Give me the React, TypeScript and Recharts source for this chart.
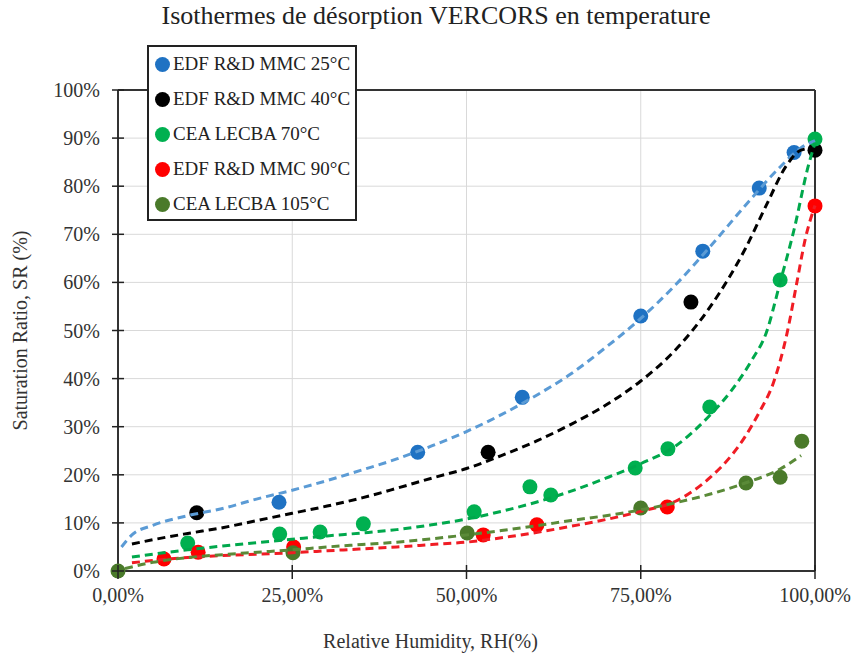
import React from "react"
import {
  ScatterChart,
  Scatter,
  XAxis,
  YAxis,
  CartesianGrid,
  ReferenceLine,
} from "recharts"

const FONT = "'Liberation Serif', 'Times New Roman', serif"

// measured points (RH %, SR %)
const rh25 = [23.1, 43.0, 58.0, 75.0, 83.9, 92.0, 97.0]
const sr25 = [14.3, 24.7, 36.1, 53.0, 66.5, 79.6, 87.0]
const rh40 = [11.3, 53.1, 82.2, 100]
const sr40 = [12.1, 24.7, 55.9, 87.5]
const rh70 = [10.0, 23.2, 29.0, 35.2, 51.1, 59.1, 62.1, 74.2, 78.9, 84.9, 95.0, 100]
const sr70 = [5.8, 7.7, 8.1, 9.8, 12.3, 17.5, 15.8, 21.4, 25.4, 34.1, 60.5, 89.8]
const rh90 = [6.6, 11.5, 25.2, 52.4, 60.1, 78.8, 100]
const sr90 = [2.5, 3.9, 5.0, 7.5, 9.6, 13.3, 75.9]
const rh105 = [0, 25.1, 50.1, 75.0, 90.1, 95.0, 98.1]
const sr105 = [0, 3.8, 7.9, 13.1, 18.3, 19.5, 27.0]

// fitted curves
const fitRh25 = [0.5, 2, 5, 10, 15, 20, 25, 30, 35, 40, 45, 50, 55, 60, 65, 70, 75, 80, 85, 90, 95, 98, 100]
const fitSr25 = [5, 7.5, 9.5, 11.5, 13, 15, 16.8, 18.8, 21, 23.3, 26, 29, 32.5, 36.5, 41, 46.5, 52.5, 59.5, 67.5, 76, 84, 88, 89.5]
const fitRh40 = [2, 5, 10, 15, 20, 25, 30, 35, 40, 45, 50, 55, 60, 65, 70, 75, 80, 85, 90, 93, 96, 98, 100]
const fitSr40 = [5.6, 6.5, 7.8, 9, 10.5, 12, 13.5, 15.2, 17.2, 19.3, 21.3, 24, 27, 30.5, 34.5, 39.5, 46, 55, 67, 76, 84.5, 87.5, 88]
const fitRh70 = [2, 5, 10, 15, 20, 25, 30, 35, 40, 45, 50, 55, 60, 65, 70, 75, 80, 85, 88, 91, 93, 95, 97, 99, 100]
const fitSr70 = [2.9, 3.5, 4.4, 5.2, 5.9, 6.6, 7.3, 7.9, 8.6, 9.6, 10.8, 12.4, 14.3, 16.6, 19.3, 22.3, 26, 32.5, 37.5, 44, 49.5, 60, 71, 84, 89]
const fitRh90 = [2, 5, 10, 15, 20, 25, 30, 35, 40, 45, 50, 55, 60, 65, 70, 75, 80, 85, 88, 90, 92, 94, 96, 97.4, 98.6, 100]
const fitSr90 = [1.7, 2.2, 2.8, 3.2, 3.5, 3.8, 4.2, 4.6, 5, 5.5, 6, 6.9, 8, 9.3, 10.7, 12.4, 14.5, 19.5, 24, 28, 33, 39, 49.5, 60, 69, 76]
const fitRh105 = [1, 5, 10, 15, 20, 25, 30, 35, 40, 45, 50, 55, 60, 65, 70, 75, 80, 85, 90, 95, 98]
const fitSr105 = [0.5, 1.8, 2.8, 3.4, 3.9, 4.4, 5, 5.5, 6, 6.7, 7.5, 8.4, 9.4, 10.5, 11.5, 12.7, 14.2, 16, 18.3, 21.2, 24]

const xTicks = [0, 25, 50, 75, 100]
const yTicks = [0, 10, 20, 30, 40, 50, 60, 70, 80, 90, 100]

const zip = (xs: number[], ys: number[]) => xs.map((x, i) => ({ x, y: ys[i] }))

const series = [
  { name: "EDF R&D MMC 25°C", color: "#1f72c3", lineColor: "#5b9bd5", pts: zip(rh25, sr25), fit: zip(fitRh25, fitSr25) },
  { name: "EDF R&D MMC 40°C", color: "#000000", lineColor: "#000000", pts: zip(rh40, sr40), fit: zip(fitRh40, fitSr40) },
  { name: "CEA LECBA 70°C", color: "#00b050", lineColor: "#00a84c", pts: zip(rh70, sr70), fit: zip(fitRh70, fitSr70) },
  { name: "EDF R&D MMC 90°C", color: "#ff0000", lineColor: "#f01c24", pts: zip(rh90, sr90), fit: zip(fitRh90, fitSr90) },
  { name: "CEA LECBA 105°C", color: "#4a7a2a", lineColor: "#5a8a38", pts: zip(rh105, sr105), fit: zip(fitRh105, fitSr105) },
]

const YTick = (props: any) => {
  const { x, y, payload } = props
  return (
    <g>
      <line x1={x + 12} x2={x + 24} y1={y} y2={y} stroke="#222" strokeWidth={1.5} />
      <text x={x} y={y} textAnchor="end" dominantBaseline="central" fontFamily={FONT} fontSize={20} fill="#333">
        {payload.value}%
      </text>
    </g>
  )
}

const XTick = (props: any) => {
  const { x, y, payload } = props
  return (
    <g>
      <line x1={x} x2={x} y1={y - 23} y2={y - 9} stroke="#222" strokeWidth={1.5} />
      <text x={x} y={y} dy="0.71em" textAnchor="middle" fontFamily={FONT} fontSize={20} fill="#333">
        {payload.value.toFixed(2).replace(".", ",")}%
      </text>
    </g>
  )
}

const Dot = (color: string) => (p: any) => <circle cx={p.cx} cy={p.cy} r={7.5} fill={color} />
const NoDot = () => <g />

export default function App() {
  return (
    <div style={{ position: "absolute", left: 0, top: 0, width: 857, height: 659, background: "#fff" }}>
      <div
        style={{
          position: "absolute",
          left: 436,
          top: 1,
          transform: "translateX(-50%)",
          whiteSpace: "nowrap",
          fontFamily: FONT,
          fontSize: 26,
          color: "#222",
        }}
      >
        Isothermes de désorption VERCORS en temperature
      </div>
      <ScatterChart width={857} height={659} margin={{ top: 90, right: 42, bottom: 8, left: 0 }}>
        <CartesianGrid stroke="#d9d9d9" strokeWidth={1} />
        <XAxis
          type="number"
          dataKey="x"
          domain={[0, 100]}
          ticks={xTicks}
          height={80}
          tickSize={0}
          tickMargin={17}
          tick={<XTick />}
          axisLine={{ stroke: "#333", strokeWidth: 2 }}
          tickLine={false}
          label={{
            value: "Relative Humidity, RH(%)",
            position: "insideBottom",
            offset: 3,
            dx: -36,
            style: { fontFamily: FONT, fontSize: 20, fill: "#333" },
          }}
        />
        <YAxis
          type="number"
          dataKey="y"
          domain={[0, 100]}
          ticks={yTicks}
          width={118}
          tickSize={0}
          tickMargin={18}
          tick={<YTick />}
          axisLine={{ stroke: "#333", strokeWidth: 2 }}
          tickLine={false}
          label={{
            value: "Saturation Ratio, SR (%)",
            angle: -90,
            position: "insideLeft",
            offset: 20,
            style: { fontFamily: FONT, fontSize: 20, fill: "#333", textAnchor: "middle" },
          }}
        />
        <ReferenceLine y={100} stroke="#333" strokeWidth={2} />
        <ReferenceLine x={100} stroke="#333" strokeWidth={2} />
        {series.map((s) => (
          <Scatter
            key={s.name + "-pts"}
            name={s.name}
            data={s.pts}
            fill={s.color}
            shape={Dot(s.color)}
            isAnimationActive={false}
          />
        ))}
        {series.map((s) => (
          <Scatter
            key={s.name + "-fit"}
            data={s.fit}
            fill={s.lineColor}
            line={{ stroke: s.lineColor, strokeWidth: 3, strokeDasharray: "8 5" }}
            lineJointType="monotoneX"
            shape={NoDot}
            isAnimationActive={false}
          />
        ))}
      </ScatterChart>
      <div
        style={{
          position: "absolute",
          left: 147,
          top: 45,
          width: 206,
          height: 172,
          border: "2px solid #222",
          background: "#fff",
          fontFamily: FONT,
          fontSize: 19,
          color: "#222",
        }}
      >
        {series.map((s, i) => (
          <div
            key={s.name}
            style={{
              position: "absolute",
              left: 6,
              top: 0 + i * 35,
              height: 34,
              display: "flex",
              alignItems: "center",
              whiteSpace: "nowrap",
            }}
          >
            <span
              style={{
                display: "inline-block",
                width: 15,
                height: 15,
                borderRadius: "50%",
                background: s.color,
                marginRight: 3,
              }}
            />
            {s.name}
          </div>
        ))}
      </div>
    </div>
  )
}
